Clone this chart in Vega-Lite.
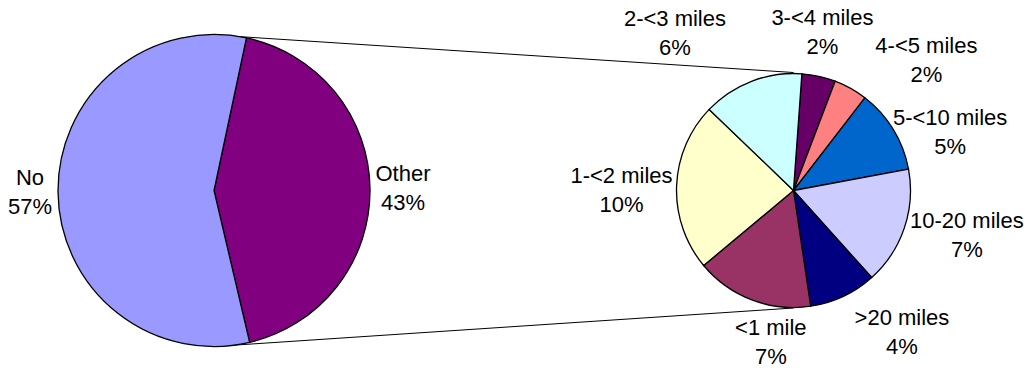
{
  "$schema": "https://vega.github.io/schema/vega-lite/v6.json",
  "width": 1031,
  "height": 361,
  "autosize": "none",
  "padding": {"left": 0, "right": 0, "top": 10, "bottom": 0},
  "background": "white",
  "config": {"view": {"stroke": null}, "font": "Liberation Sans", "text": {"fontSize": 22, "lineBreak": "\n", "lineHeight": 29, "align": "center", "baseline": "middle", "dy": -14.5}},
  "datasets": {
    "shares": [
      {"pie": "main", "category": "Other", "pct": 43, "seq": 1},
      {"pie": "main", "category": "No", "pct": 57, "seq": 2},
      {"pie": "detail", "category": "3-<4 miles", "pct": 2, "seq": 1},
      {"pie": "detail", "category": "4-<5 miles", "pct": 2, "seq": 2},
      {"pie": "detail", "category": "5-<10 miles", "pct": 5, "seq": 3},
      {"pie": "detail", "category": "10-20 miles", "pct": 7, "seq": 4},
      {"pie": "detail", "category": ">20 miles", "pct": 4, "seq": 5},
      {"pie": "detail", "category": "<1 mile", "pct": 7, "seq": 6},
      {"pie": "detail", "category": "1-<2 miles", "pct": 10, "seq": 7},
      {"pie": "detail", "category": "2-<3 miles", "pct": 6, "seq": 8}
    ],
    "connectors": [
      {"pie": "main", "edge": "top", "offset": 155.5},
      {"pie": "detail", "edge": "top", "offset": 118},
      {"pie": "main", "edge": "bottom", "offset": -156},
      {"pie": "detail", "edge": "bottom", "offset": -117.5}
    ]
  },
  "encoding": {
    "x": {
      "field": "pie",
      "type": "nominal",
      "scale": {"type": "point", "domain": ["main", "detail"], "padding": 0.3896, "align": 0.474},
      "axis": null
    }
  },
  "layer": [
    {
      "data": {"name": "connectors"},
      "mark": {"type": "line", "color": "black", "strokeWidth": 1},
      "encoding": {
        "y": {"field": "offset", "type": "quantitative", "scale": {"domain": [-180.5, 180.5]}, "axis": null},
        "detail": {"field": "edge"}
      }
    },
    {
      "data": {"name": "shares"},
      "transform": [
        {"filter": "datum.pie === 'main'"},
        {"stack": "pct", "groupby": ["pie"], "sort": [{"field": "seq", "order": "ascending"}], "as": ["t0", "t1"]},
        {"calculate": "(datum.t0 + datum.t1) / 2", "as": "tmid"},
        {"calculate": "datum.category + '\\n' + datum.pct + '%'", "as": "label"}
      ],
      "encoding": {
        "theta": {"field": "t0", "type": "quantitative", "stack": null, "scale": {"domain": [0, 100], "range": [0.2094, 6.4926]}},
        "color": {
          "field": "category",
          "type": "nominal",
          "legend": null,
          "scale": {
            "domain": ["No", "Other", "3-<4 miles", "4-<5 miles", "5-<10 miles", "10-20 miles", ">20 miles", "<1 mile", "1-<2 miles", "2-<3 miles"],
            "range": ["#9999FF", "#800080", "#660066", "#FF8080", "#0066CC", "#CCCCFF", "#000080", "#993366", "#FFFFCC", "#CCFFFF"]
          }
        }
      },
      "layer": [
        {"mark": {"type": "arc", "outerRadius": 156, "stroke": "black", "strokeWidth": 1.3}, "encoding": {"theta2": {"field": "t1"}}},
        {
          "transform": [{"filter": {"field": "category", "equal": "Other"}}],
          "mark": {"type": "text", "radius": 189},
          "encoding": {"theta": {"field": "tmid", "type": "quantitative", "stack": null}, "text": {"field": "label"}, "color": {"value": "black"}}
        },
        {
          "transform": [{"filter": {"field": "category", "equal": "No"}}],
          "mark": {"type": "text", "radius": 184},
          "encoding": {"theta": {"field": "tmid", "type": "quantitative", "stack": null}, "text": {"field": "label"}, "color": {"value": "black"}}
        }
      ]
    },
    {
      "data": {"name": "shares"},
      "transform": [
        {"filter": "datum.pie === 'detail'"},
        {"stack": "pct", "groupby": ["pie"], "sort": [{"field": "seq", "order": "ascending"}], "as": ["t0", "t1"]},
        {"calculate": "(datum.t0 + datum.t1) / 2", "as": "tmid"},
        {"calculate": "datum.category + '\\n' + datum.pct + '%'", "as": "label"}
      ],
      "encoding": {
        "theta": {"field": "t0", "type": "quantitative", "stack": null, "scale": {"domain": [0, 43], "range": [0.0716, 6.3548]}},
        "color": {"field": "category", "type": "nominal", "legend": null}
      },
      "layer": [
        {"mark": {"type": "arc", "outerRadius": 117, "stroke": "black", "strokeWidth": 1.3}, "encoding": {"theta2": {"field": "t1"}}},
        {
          "transform": [{"filter": {"field": "category", "equal": "3-<4 miles"}}],
          "mark": {"type": "text", "radius": 161, "thetaOffset": -0.037},
          "encoding": {"theta": {"field": "tmid", "type": "quantitative", "stack": null}, "text": {"field": "label"}, "color": {"value": "black"}}
        },
        {
          "transform": [{"filter": {"field": "category", "equal": "10-20 miles"}}],
          "mark": {"type": "text", "radius": 179, "thetaOffset": -0.075},
          "encoding": {"theta": {"field": "tmid", "type": "quantitative", "stack": null}, "text": {"field": "label"}, "color": {"value": "black"}}
        },
        {
          "transform": [{"filter": {"field": "category", "equal": "1-<2 miles"}}],
          "mark": {"type": "text", "radius": 172, "thetaOffset": -0.035},
          "encoding": {"theta": {"field": "tmid", "type": "quantitative", "stack": null}, "text": {"field": "label"}, "color": {"value": "black"}}
        },
        {
          "transform": [{"filter": {"field": "category", "equal": "4-<5 miles"}}],
          "mark": {"type": "text", "radius": 186, "thetaOffset": 0.286},
          "encoding": {"theta": {"field": "tmid", "type": "quantitative", "stack": null}, "text": {"field": "label"}, "color": {"value": "black"}}
        },
        {
          "transform": [{"filter": {"field": "category", "equal": "5-<10 miles"}}],
          "mark": {"type": "text", "radius": 167, "thetaOffset": 0.195},
          "encoding": {"theta": {"field": "tmid", "type": "quantitative", "stack": null}, "text": {"field": "label"}, "color": {"value": "black"}}
        },
        {
          "transform": [{"filter": {"field": "category", "equal": ">20 miles"}}],
          "mark": {"type": "text", "radius": 179, "thetaOffset": -0.211},
          "encoding": {"theta": {"field": "tmid", "type": "quantitative", "stack": null}, "text": {"field": "label"}, "color": {"value": "black"}}
        },
        {
          "transform": [{"filter": {"field": "category", "equal": "<1 mile"}}],
          "mark": {"type": "text", "radius": 154, "thetaOffset": -0.216},
          "encoding": {"theta": {"field": "tmid", "type": "quantitative", "stack": null}, "text": {"field": "label"}, "color": {"value": "black"}}
        },
        {
          "transform": [{"filter": {"field": "category", "equal": "2-<3 miles"}}],
          "mark": {"type": "text", "radius": 197, "thetaOffset": -0.279},
          "encoding": {"theta": {"field": "tmid", "type": "quantitative", "stack": null}, "text": {"field": "label"}, "color": {"value": "black"}}
        }
      ]
    }
  ],
  "resolve": {"scale": {"theta": "independent"}}
}
